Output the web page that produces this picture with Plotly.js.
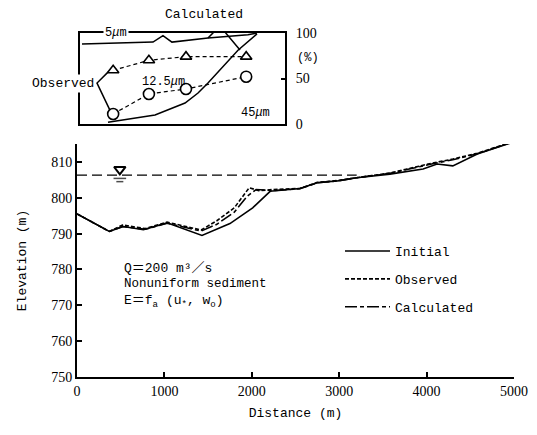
<!DOCTYPE html>
<html>
<head>
<meta charset="utf-8">
<script src="https://cdn.plot.ly/plotly-3.0.1.min.js"></script>
<style>html,body{margin:0;padding:0;background:#fff;}#chart{width:537px;height:435px;}</style>
</head>
<body>
<div id="chart"></div>
<script>
// ---- main profile data (distance m, elevation m) ----
var initialDist = [0, 370, 530, 760, 1030, 1430, 1750, 2010, 2210, 2550, 2750, 2980, 3200, 3580, 3960, 4120, 4300, 4580, 5000];
var initialElev = [795.5, 790.6, 792.0, 791.1, 793.0, 789.5, 792.8, 797.2, 801.8, 802.6, 804.2, 804.7, 805.6, 806.6, 808.0, 809.4, 808.9, 812.2, 815.6];
var observedDist = [0, 370, 520, 780, 1030, 1420, 1600, 1800, 1970, 2080, 2250, 2550, 2750, 2980, 3200, 3580, 4070, 4300, 4580, 5000];
var observedElev = [795.5, 790.6, 792.4, 791.4, 793.2, 791.0, 793.6, 797.2, 802.8, 802.0, 802.3, 802.6, 804.3, 804.8, 805.6, 806.9, 809.7, 810.8, 812.4, 815.8];
var calculatedDist = [0, 370, 520, 780, 1030, 1420, 1600, 1800, 1950, 2050, 2250, 2550, 2750, 2980, 3200, 3580, 4070, 4300, 4580, 5000];
var calculatedElev = [795.5, 790.6, 792.0, 791.2, 792.9, 790.7, 792.6, 796.0, 800.5, 802.3, 802.0, 802.5, 804.2, 804.7, 805.6, 806.8, 809.5, 810.6, 812.3, 815.7];
var waterDist = [0, 3200];
var waterElev = [806.3, 806.3];
var waterMarkDist = [490];
var waterMarkElev = [807.9];

// ---- inset data (distance m, percent) ----
var insetObsDist = [380, 790, 1215, 1905];
var insetObsTri = [59, 70, 74, 74];
var insetObsCirc = [11, 33, 38.5, 52];
var insetCalcTopDist = [23, 837, 951, 1054, 1467, 1925, 2029];
var insetCalcTopPct = [88, 90, 97, 90, 94.5, 98, 100];
var insetCalcSDist = [321, 860, 1204, 1353, 1467, 1662, 1811, 2029];
var insetCalcSPct = [2, 10, 23, 34, 45, 65, 81, 99];
var obsPointerDist = [321, 195, 344];
var obsPointerPct = [57, 45, 15];
var calcPointerDist = [1467, 1604, 1834];
var calcPointerPct = [94.5, 107.7, 81.3];

var xTicks = [0, 1000, 2000, 3000, 4000, 5000];
var yTicks = [750, 760, 770, 780, 790, 800, 810];
var pctTicks = [0, 50, 100];

var mono = 'Liberation Mono, Noto Sans CJK JP, monospace';
var serif = 'Liberation Serif, serif';

var traces = [
  {x: initialDist, y: initialElev, mode: 'lines', name: 'Initial', legendgroup: 'a',
   line: {color: '#000', width: 1.6}, cliponaxis: false},
  {x: observedDist, y: observedElev, mode: 'lines', name: 'Observed', legendgroup: 'b',
   line: {color: '#000', width: 1.6, dash: '4px,2px'}, cliponaxis: false},
  {x: calculatedDist, y: calculatedElev, mode: 'lines', name: 'Calculated', legendgroup: 'c',
   line: {color: '#000', width: 1.6, dash: '12px,3px,4px,3px'}, cliponaxis: false},
  {x: waterDist, y: waterElev, mode: 'lines', showlegend: false,
   line: {color: '#000', width: 1.3, dash: '10px,5px'}},
  {x: waterMarkDist, y: waterMarkElev, mode: 'markers', showlegend: false,
   marker: {symbol: 'triangle-down-open', size: 10, color: '#000', line: {width: 2, color: '#000'}}},
  {x: [waterMarkDist[0], waterMarkDist[0]], y: [waterElev[0] - 0.9, waterElev[0] - 1.8], mode: 'markers', showlegend: false,
   marker: {symbol: 'line-ew', size: [9, 5], color: '#000', line: {width: 1.5, color: '#000'}}},
  // inset
  {x: insetCalcTopDist, y: insetCalcTopPct, xaxis: 'x2', yaxis: 'y2', mode: 'lines', showlegend: false,
   line: {color: '#000', width: 1.5}, cliponaxis: false},
  {x: insetCalcSDist, y: insetCalcSPct, xaxis: 'x2', yaxis: 'y2', mode: 'lines', showlegend: false,
   line: {color: '#000', width: 1.5}, cliponaxis: false},
  {x: calcPointerDist, y: calcPointerPct, xaxis: 'x2', yaxis: 'y2', mode: 'lines', showlegend: false,
   line: {color: '#000', width: 1.5}, cliponaxis: false},
  {x: obsPointerDist, y: obsPointerPct, xaxis: 'x2', yaxis: 'y2', mode: 'lines', showlegend: false,
   line: {color: '#000', width: 1.5}, cliponaxis: false},
  {x: insetObsDist, y: insetObsTri, xaxis: 'x2', yaxis: 'y2', mode: 'lines+markers', showlegend: false,
   line: {color: '#000', width: 1.2, dash: '4px,3px'},
   marker: {symbol: 'triangle-up', size: 10, color: '#fff', line: {color: '#000', width: 1.6}}, cliponaxis: false},
  {x: insetObsDist, y: insetObsCirc, xaxis: 'x2', yaxis: 'y2', mode: 'lines+markers', showlegend: false,
   line: {color: '#000', width: 1.2, dash: '4px,3px'},
   marker: {symbol: 'circle', size: 11, color: '#fff', line: {color: '#000', width: 1.6}}, cliponaxis: false}
];

function px2x(p) { return (p - 77) / 437; }
function py2y(p) { return (377 - p) / 377; }

var layout = {
  width: 537, height: 435,
  margin: {l: 77, r: 23, t: 0, b: 58, pad: 0},
  paper_bgcolor: '#fff', plot_bgcolor: 'rgba(0,0,0,0)',
  showlegend: true,
  font: {family: mono, color: '#000', size: 13},
  xaxis: {domain: [0, 1], range: [0, 5000], tickvals: xTicks, ticks: 'inside', ticklen: 5, tickwidth: 2,
          tickcolor: '#000', showline: true, linewidth: 2, linecolor: '#000', showgrid: false, zeroline: false,
          anchor: 'y', tickfont: {family: serif, size: 14},
          title: {text: 'Distance (m)', font: {family: mono, size: 13}, standoff: 10}},
  yaxis: {domain: [0, py2y(144)], range: [750, 815], tickvals: yTicks, ticks: 'inside', ticklen: 5, tickwidth: 2,
          tickcolor: '#000', showline: true, linewidth: 2, linecolor: '#000', showgrid: false, zeroline: false,
          anchor: 'x', tickfont: {family: serif, size: 14},
          title: {text: 'Elevation (m)', font: {family: mono, size: 13}, standoff: 22}},
  xaxis2: {domain: [px2x(80), px2x(285)], range: [0, 2350], anchor: 'y2', showline: true, mirror: true,
           linewidth: 2, linecolor: '#000', ticks: '', showticklabels: false, showgrid: false, zeroline: false},
  yaxis2: {domain: [py2y(124), py2y(33)], range: [0, 100], anchor: 'x2', side: 'right', tickvals: pctTicks,
           ticks: 'inside', ticklen: 4, tickwidth: 2, tickcolor: '#000', showline: true, mirror: true,
           linewidth: 2, linecolor: '#000', showgrid: false, zeroline: false, ticklabelstandoff: 6,
           tickfont: {family: serif, size: 14}},
  legend: {x: px2x(340), y: py2y(236), xanchor: 'left', yanchor: 'top', bgcolor: 'rgba(0,0,0,0)',
           font: {family: mono, size: 13}, tracegroupgap: 8, itemwidth: 45},
  annotations: [
    {xref: 'paper', yref: 'paper', x: px2x(122), y: py2y(268), xanchor: 'left', yanchor: 'middle', showarrow: false,
     text: 'Q＝200 m³／s', font: {family: mono, size: 13}},
    {xref: 'paper', yref: 'paper', x: px2x(122), y: py2y(284), xanchor: 'left', yanchor: 'middle', showarrow: false,
     text: 'Nonuniform sediment', font: {family: mono, size: 12.5}},
    {xref: 'paper', yref: 'paper', x: px2x(122), y: py2y(301), xanchor: 'left', yanchor: 'middle', showarrow: false,
     text: 'E＝f<sub>a</sub> (u<sub>*</sub>, w<sub>o</sub>)', font: {family: mono, size: 13}},
    {xref: 'paper', yref: 'paper', x: px2x(204), y: py2y(14), xanchor: 'center', yanchor: 'middle', showarrow: false,
     text: 'Calculated', font: {family: mono, size: 13}},
    {xref: 'paper', yref: 'paper', x: px2x(96), y: py2y(83), xanchor: 'right', yanchor: 'middle', showarrow: false,
     text: 'Observed', bgcolor: '#fff', font: {family: mono, size: 13}},
    {xref: 'paper', yref: 'paper', x: px2x(116), y: py2y(33), xanchor: 'center', yanchor: 'middle', showarrow: false,
     text: '5<i>μ</i>m', bgcolor: '#fff', font: {family: mono, size: 12}},
    {xref: 'paper', yref: 'paper', x: px2x(163), y: py2y(82), xanchor: 'center', yanchor: 'middle', showarrow: false,
     text: '12.5<i>μ</i>m', font: {family: mono, size: 12}},
    {xref: 'paper', yref: 'paper', x: px2x(255), y: py2y(113), xanchor: 'center', yanchor: 'middle', showarrow: false,
     text: '45<i>μ</i>m', font: {family: mono, size: 12}},
    {xref: 'paper', yref: 'paper', x: px2x(308), y: py2y(58), xanchor: 'center', yanchor: 'middle', showarrow: false,
     text: '(%)', font: {family: mono, size: 12}}
  ]
};

Plotly.newPlot('chart', traces, layout, {displayModeBar: false, staticPlot: true});
</script>
</body>
</html>
